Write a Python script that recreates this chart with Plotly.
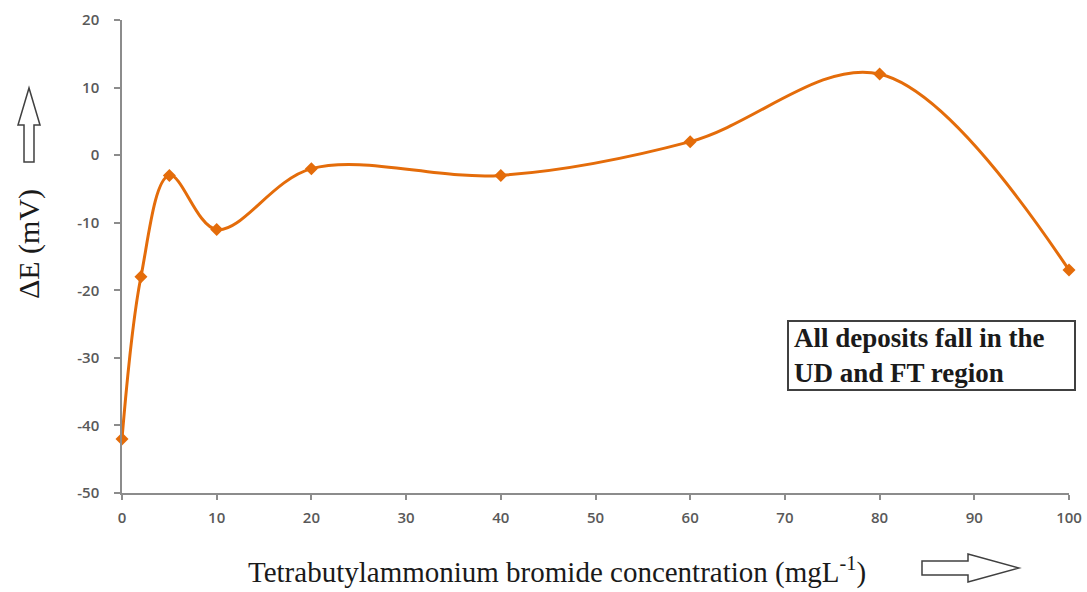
import plotly.graph_objects as go

# Tetrabutylammonium bromide concentration (mg/L) and potential shift ΔE (mV)
concentration = [0, 2, 5, 10, 20, 40, 60, 80, 100]
delta_e = [-42, -18, -3, -11, -2, -3, 2, 12, -17]

x_ticks = [0, 10, 20, 30, 40, 50, 60, 70, 80, 90, 100]
y_ticks = [-50, -40, -30, -20, -10, 0, 10, 20]
y_tick_text = ["-50", "-40", "-30", "-20", "-10", "0", "10", "20"]

W, H = 1087, 592
L, R, T, B = 122, 18, 20, 99
PW, PH = W - L - R, H - T - B

ORANGE = "#E46C0A"
AXIS = "#8c8c8c"
TICKFONT = dict(family="Open Sans", size=15, color="#595959", weight=600)
SERIF = "Liberation Serif"


def px(x, y):
    """Pixel position -> paper coordinates."""
    return (x - L) / PW, (H - B - y) / PH


def arrow_path(points):
    pts = [px(x, y) for x, y in points]
    return "M " + " L ".join(f"{a:.5f},{b:.5f}" for a, b in pts) + " Z"


fig = go.Figure()
fig.add_trace(go.Scatter(
    x=concentration, y=delta_e,
    mode="lines+markers",
    line=dict(color=ORANGE, width=3, shape="spline", smoothing=1.0),
    marker=dict(symbol="diamond", size=10, color=ORANGE),
    cliponaxis=False,
    showlegend=False,
))

up_arrow = [(24, 162), (34, 162), (34, 125), (40, 125), (29, 88),
            (18, 125), (24, 125)]
right_arrow = [(922, 561), (968, 561), (968, 554), (1019, 568),
               (968, 582), (968, 575), (922, 575)]

shapes = []
for pts in (up_arrow, right_arrow):
    shapes.append(dict(type="path", xref="paper", yref="paper",
                       path=arrow_path(pts),
                       line=dict(color="#404040", width=1.5),
                       fillcolor="white"))

bx0, by0 = px(788, 390)
bx1, by1 = px(1075, 321)
shapes.append(dict(type="rect", xref="paper", yref="paper",
                   x0=bx0, y0=by0, x1=bx1, y1=by1,
                   line=dict(color="#404040", width=2), fillcolor="white"))

ylx, yly = px(29, 244)
xtx, xty = px(557, 570)
atx, aty = px(792, 355)

fig.update_layout(
    width=W, height=H,
    margin=dict(l=L, r=R, t=T, b=B, autoexpand=False),
    plot_bgcolor="white", paper_bgcolor="white",
    shapes=shapes,
    xaxis=dict(range=[0, 100], tickvals=x_ticks, showgrid=False,
               automargin=False,
               zeroline=False, showline=True, linecolor=AXIS, linewidth=1.5,
               ticks="outside", ticklen=5, tickcolor=AXIS, tickwidth=1.5,
               tickfont=TICKFONT, ticklabelstandoff=5),
    yaxis=dict(range=[-50, 20], tickvals=y_ticks, ticktext=y_tick_text,
               showgrid=False, zeroline=False, showline=True,
               automargin=False,
               linecolor=AXIS, linewidth=1.5,
               ticks="outside", ticklen=6, tickcolor=AXIS, tickwidth=1.5,
               tickfont=TICKFONT, ticklabelstandoff=12),
    annotations=[
        dict(text="ΔE (mV)", xref="paper", yref="paper", x=ylx, y=yly,
             textangle=-90, showarrow=False, xanchor="center", yanchor="middle",
             font=dict(family=SERIF, size=30, color="#1a1a1a")),
        dict(text="Tetrabutylammonium bromide concentration (mgL<sup>-1</sup>)",
             xref="paper", yref="paper", x=xtx, y=xty, showarrow=False,
             xanchor="center", yanchor="middle",
             font=dict(family=SERIF, size=29, color="#1a1a1a")),
        dict(text="<b>All deposits fall in the<br>UD and FT region</b>",
             xref="paper", yref="paper", x=atx, y=aty, showarrow=False,
             xanchor="left", yanchor="middle", align="left",
             font=dict(family=SERIF, size=27, color="#1a1a1a")),
    ],
)

fig.write_html("out.html")
